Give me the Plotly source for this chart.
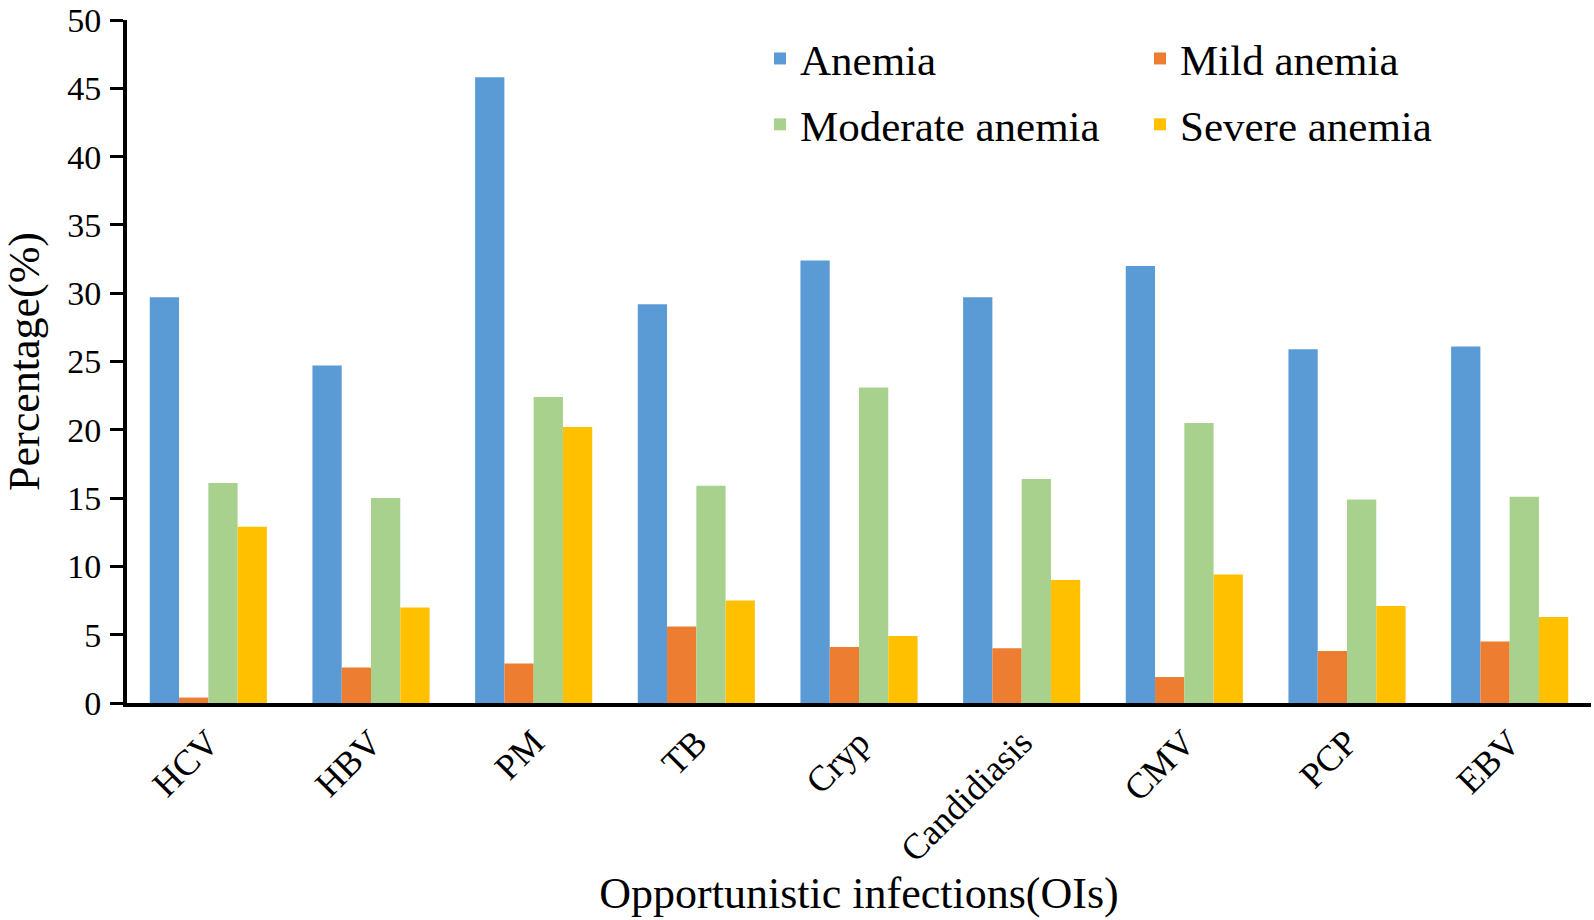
import plotly.graph_objects as go

categories = ["HCV", "HBV", "PM", "TB", "Cryp", "Candidiasis", "CMV", "PCP", "EBV"]
anemia = [29.7, 24.7, 45.8, 29.2, 32.4, 29.7, 32.0, 25.9, 26.1]
mild_anemia = [0.4, 2.6, 2.9, 5.6, 4.1, 4.0, 1.9, 3.8, 4.5]
moderate_anemia = [16.1, 15.0, 22.4, 15.9, 23.1, 16.4, 20.5, 14.9, 15.1]
severe_anemia = [12.9, 7.0, 20.2, 7.5, 4.9, 9.0, 9.4, 7.1, 6.3]
y_ticks = [0, 5, 10, 15, 20, 25, 30, 35, 40, 45, 50]

FONT = "Liberation Serif, Times New Roman, serif"
W, H = 1594, 920
ML, MR, MT, MB = 127, 3, 20, 217
plot_w = W - ML - MR
plot_h = H - MT - MB

def px_to_paper_x(px):
    return (px - ML) / plot_w

def px_to_paper_y(py):
    return (H - MB - py) / plot_h

series = [
    ("Anemia", anemia, "#5B9BD5", "legend"),
    ("Mild anemia", mild_anemia, "#ED7D31", "legend2"),
    ("Moderate anemia", moderate_anemia, "#A9D18E", "legend"),
    ("Severe anemia", severe_anemia, "#FFC000", "legend2"),
]

fig = go.Figure()
for name, vals, color, leg in series:
    fig.add_trace(go.Bar(
        x=categories, y=vals, name=name,
        marker=dict(color=color, line=dict(width=0)),
        legend=leg, legendgroup=name,
    ))

legend_common = dict(
    orientation="v",
    font=dict(family=FONT, size=43, color="black"),
    bgcolor="rgba(0,0,0,0)",
    borderwidth=0,
    xanchor="left", yanchor="top",
    tracegroupgap=7,
    itemclick=False, itemdoubleclick=False,
)

fig.update_layout(
    width=W, height=H,
    margin=dict(l=ML, r=MR, t=MT, b=MB, autoexpand=False),
    paper_bgcolor="white", plot_bgcolor="white",
    barmode="group", bargap=0.28, bargroupgap=0,
    font=dict(family=FONT, color="black"),
    legend=dict(x=px_to_paper_x(760), y=px_to_paper_y(24), **legend_common),
    legend2=dict(x=px_to_paper_x(1140), y=px_to_paper_y(24), **legend_common),
    xaxis=dict(
        showline=True, linecolor="black", linewidth=4,
        ticks="", tickangle=-45,
        tickfont=dict(family=FONT, size=36, color="black"),
        showgrid=False, zeroline=False,
        title=dict(text="Opportunistic infections(OIs)",
                   font=dict(family=FONT, size=44, color="black"), standoff=6),
        automargin=False,
    ),
    yaxis=dict(
        range=[0, 50], tickvals=y_ticks,
        showline=True, linecolor="black", linewidth=4,
        ticks="outside", ticklen=13, tickwidth=3, tickcolor="black",
        tickfont=dict(family=FONT, size=34, color="black"),
        ticklabelstandoff=2, ticklabeloverflow="allow",
        showgrid=False, zeroline=False,
        title=dict(text="Percentage(%)",
                   font=dict(family=FONT, size=44, color="black"), standoff=16),
        automargin=False,
    ),
)

fig.write_html(
    "out.html",
    config={"displayModeBar": False},
    post_script="document.body.style.margin='0';document.body.style.overflow='hidden';",
)
